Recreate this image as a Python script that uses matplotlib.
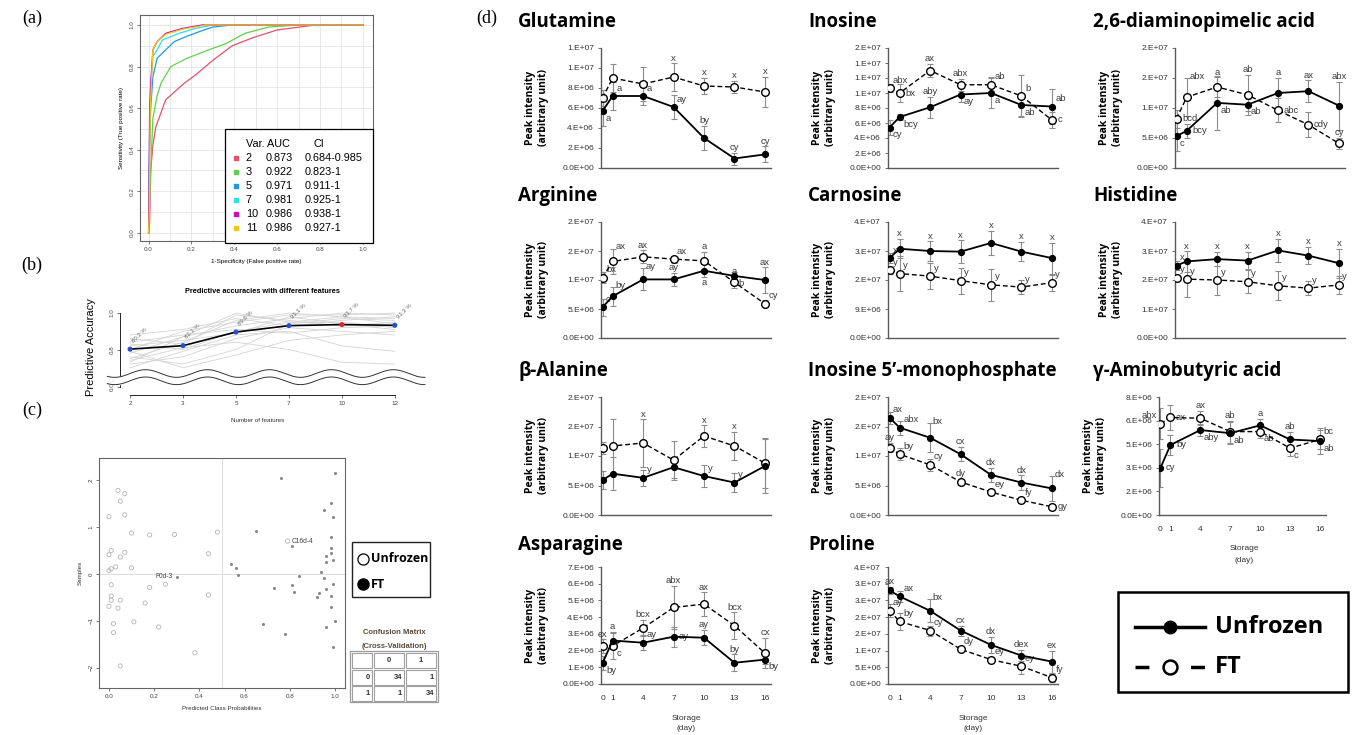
import numpy as np
import matplotlib
matplotlib.use('Agg')
import matplotlib.pyplot as plt
from matplotlib.patches import Rectangle
from matplotlib.ticker import FuncFormatter, MultipleLocator

# ---------------- data ----------------
days = [0, 1, 4, 7, 10, 13, 16]

# (a) ROC curves (false positive rate, true positive rate)
roc_vars = ['2', '3', '5', '7', '10', '11']
roc_auc = ['0.873', '0.922', '0.971', '0.981', '0.986', '0.986']
roc_ci = ['0.684-0.985', '0.823-1', '0.911-1', '0.925-1', '0.938-1', '0.927-1']
roc_fpr_2 = [0, 0.005, 0.01, 0.02, 0.034, 0.08, 0.167, 0.22, 0.30, 0.39, 0.49, 0.60, 0.78, 1.0]
roc_tpr_2 = [0, 0.05, 0.30, 0.42, 0.51, 0.64, 0.72, 0.76, 0.83, 0.90, 0.94, 0.976, 1.0, 1.0]
roc_fpr_3 = [0, 0.01, 0.02, 0.04, 0.058, 0.104, 0.18, 0.28, 0.36, 0.45, 0.56, 0.70, 1.0]
roc_tpr_3 = [0, 0.30, 0.55, 0.66, 0.72, 0.80, 0.84, 0.88, 0.91, 0.96, 0.99, 1.0, 1.0]
roc_fpr_5 = [0, 0.005, 0.01, 0.02, 0.04, 0.08, 0.12, 0.175, 0.237, 0.30, 0.39, 1.0]
roc_tpr_5 = [0, 0.40, 0.60, 0.75, 0.84, 0.88, 0.92, 0.944, 0.968, 0.99, 1.0, 1.0]
roc_fpr_7 = [0, 0.005, 0.01, 0.02, 0.04, 0.065, 0.143, 0.22, 0.30, 1.0]
roc_tpr_7 = [0, 0.50, 0.70, 0.85, 0.88, 0.928, 0.96, 0.984, 1.0, 1.0]
roc_fpr_10 = [0, 0.005, 0.01, 0.02, 0.04, 0.08, 0.16, 0.25, 1.0]
roc_tpr_10 = [0, 0.60, 0.72, 0.88, 0.92, 0.96, 0.984, 1.0, 1.0]
roc_fpr_11 = [0, 0.003, 0.008, 0.02, 0.04, 0.08, 0.16, 0.27, 1.0]
roc_tpr_11 = [0, 0.10, 0.60, 0.88, 0.92, 0.955, 0.98, 1.0, 1.0]

# (b) accuracy vs number of features
feat_labels = ['2', '3', '5', '7', '10', '12']
acc_best = [0.802, 0.821, 0.896, 0.931, 0.937, 0.933]
acc_text = ['80.2 %', '82.1 %', '89.6 %', '93.1 %', '93.7 %', '93.3 %']
acc_bg_1 = [0.75, 0.84, 0.96, 1.00, 0.98, 0.97]
acc_bg_2 = [0.78, 0.87, 0.93, 0.97, 1.00, 0.99]
acc_bg_3 = [0.83, 0.80, 0.90, 0.95, 0.95, 0.92]
acc_bg_4 = [0.72, 0.76, 0.86, 0.92, 0.90, 0.88]
acc_bg_5 = [0.86, 0.83, 0.99, 0.96, 0.93, 0.95]
acc_bg_6 = [0.70, 0.79, 0.88, 0.90, 0.82, 0.79]
acc_bg_7 = [0.80, 0.90, 0.95, 0.99, 0.99, 1.00]
acc_bg_8 = [0.76, 0.72, 0.80, 0.94, 0.97, 0.96]
acc_bg_9 = [0.84, 0.88, 0.91, 0.89, 0.92, 0.93]
acc_bg_10 = [0.74, 0.81, 0.84, 0.80, 0.73, 0.72]
acc_bg_11 = [0.88, 0.91, 0.97, 0.93, 0.96, 0.98]
acc_bg_12 = [0.79, 0.70, 0.77, 0.85, 0.88, 0.90]
acc_bg_13 = [0.82, 0.85, 0.89, 0.98, 0.94, 0.91]
acc_bg_14 = [0.73, 0.87, 1.00, 0.95, 0.98, 0.94]

# (c) predicted class probabilities
unf_prob = [0.04, 0.07, 0.05, 0.07, 0.0, 0.10, 0.18, 0.29, 0.48, 0.01, 0.07, 0.0, 0.05, 0.44,
            0.03, 0.01, 0.0, 0.10, 0.01, 0.18, 0.25, 0.01, 0.01, 0.05, 0.44, 0.0, 0.04, 0.16,
            0.02, 0.11, 0.22, 0.02, 0.38, 0.05, 0.79]
unf_samp = [1.78, 1.71, 1.55, 1.26, 1.22, 0.87, 0.83, 0.84, 0.89, 0.50, 0.46, 0.41, 0.36, 0.43,
            0.15, 0.11, 0.07, 0.13, -0.23, -0.29, -0.22, -0.47, -0.56, -0.56, -0.45, -0.69, -0.73,
            -0.62, -1.06, -1.02, -1.13, -1.25, -1.68, -1.96, 0.70]
ft_prob = [0.76, 1.0, 0.98, 0.95, 0.99, 0.65, 0.98, 0.81, 0.98, 0.98, 0.96, 0.99, 0.96, 0.54,
           0.56, 0.57, 0.84, 0.94, 0.95, 0.73, 0.81, 0.82, 0.93, 0.92, 0.96, 0.98, 0.99, 0.98,
           1.0, 0.96, 0.68, 0.78, 0.99, 0.30]
ft_samp = [2.05, 2.16, 1.52, 1.37, 1.21, 0.92, 0.78, 0.59, 0.55, 0.45, 0.38, 0.30, 0.25, 0.22,
           0.12, -0.03, -0.04, 0.05, -0.08, -0.31, -0.23, -0.38, -0.41, -0.50, -0.33, -0.47,
           -0.21, -0.70, -1.01, -1.12, -1.07, -1.27, -1.55, -0.06]
confusion = [[34, 1], [1, 34]]

# (d) peak intensities
glu_u = [5.7e6, 7.2e6, 7.2e6, 6.1e6, 3.0e6, 0.95e6, 1.36e6]
glu_u_err = [1.5e6, 1.4e6, 0.9e6, 1.2e6, 1.2e6, 0.6e6, 0.8e6]
glu_f = [7.0e6, 9.0e6, 8.4e6, 9.1e6, 8.2e6, 8.1e6, 7.6e6]
glu_f_err = [0.8e6, 1.4e6, 1.7e6, 1.35e6, 0.8e6, 0.6e6, 1.5e6]
glu_u_let = ['a', 'a', 'a', 'ay', 'by', 'cy', 'cy']
glu_f_let = ['', '', '', 'x', 'x', 'x', 'x']

ino_u = [5.4e6, 6.8e6, 8.1e6, 9.8e6, 1.0e7, 8.4e6, 8.2e6]
ino_u_err = [1.0e6, 0.4e6, 1.4e6, 1.0e6, 2.0e6, 1.4e6, 2.3e6]
ino_f = [1.065e7, 1.0e7, 1.3e7, 1.11e7, 1.11e7, 9.6e6, 6.4e6]
ino_f_err = [0.5e6, 1.2e6, 0.9e6, 0.8e6, 1.0e6, 2.8e6, 1.1e6]
ino_u_let = ['cy', 'bcy', 'aby', 'ay', 'a', 'ab', 'ab']
ino_f_let = ['abx', 'bx', 'ax', 'abx', 'ab', 'b', 'c']

dap_u = [5.3e6, 6.2e6, 1.085e7, 1.055e7, 1.25e7, 1.28e7, 1.04e7]
dap_u_err = [2.5e6, 1.2e6, 4.5e6, 1.0e6, 2.5e6, 1.8e6, 4.0e6]
dap_f = [8.2e6, 1.18e7, 1.35e7, 1.22e7, 9.6e6, 7.2e6, 4.1e6]
dap_f_err = [1.5e6, 3.2e6, 1.6e6, 3.3e6, 2.0e6, 2.1e6, 0.9e6]
dap_u_let = ['c', 'bcy', 'ab', 'ab', 'a', 'ax', 'abx']
dap_f_let = ['bcd', 'abx', 'a', 'ab', 'abc', 'cdy', 'cy']

arg_u = [5.3e6, 7.2e6, 1.01e7, 1.01e7, 1.16e7, 1.07e7, 1.0e7]
arg_u_err = [1.5e6, 1.6e6, 1.9e6, 1.1e6, 1.1e6, 0.7e6, 2.2e6]
arg_f = [1.04e7, 1.32e7, 1.4e7, 1.36e7, 1.33e7, 9.6e6, 5.9e6]
arg_f_err = [1.0e6, 2.2e6, 1.1e6, 0.6e6, 1.6e6, 1.0e6, 0.6e6]
arg_u_let = ['c', 'by', 'ay', 'ay', 'a', 'b', 'ax']
arg_f_let = ['bx', 'ax', 'ax', 'ax', 'a', 'a', 'cy']

car_u = [2.48e7, 2.77e7, 2.7e7, 2.68e7, 2.95e7, 2.68e7, 2.48e7]
car_u_err = [1.5e6, 3.0e6, 3.0e6, 3.5e6, 3.7e6, 3.0e6, 4.8e6]
car_f = [2.1e7, 2.0e7, 1.92e7, 1.78e7, 1.65e7, 1.58e7, 1.72e7]
car_f_err = [1.0e6, 5.5e6, 4.0e6, 4.0e6, 5.0e6, 2.2e6, 2.5e6]
car_u_let = ['x'] * 7
car_f_let = ['y'] * 7

his_u = [2.5e7, 2.64e7, 2.72e7, 2.67e7, 3.02e7, 2.84e7, 2.58e7]
his_u_err = [1.5e6, 3.5e6, 2.5e6, 3.0e6, 4.0e6, 3.0e6, 5.0e6]
his_f = [2.08e7, 2.03e7, 2.0e7, 1.94e7, 1.8e7, 1.72e7, 1.83e7]
his_f_err = [1.0e6, 6.0e6, 5.0e6, 4.0e6, 5.0e6, 2.5e6, 3.0e6]
his_u_let = ['x'] * 7
his_f_let = ['y'] * 7

ala_u = [5.9e6, 7.0e6, 6.3e6, 8.1e6, 6.6e6, 5.5e6, 8.3e6]
ala_u_err = [1.5e6, 2.8e6, 1.3e6, 1.8e6, 1.8e6, 1.6e6, 4.5e6]
ala_f = [1.14e7, 1.17e7, 1.22e7, 9.3e6, 1.34e7, 1.17e7, 8.8e6]
ala_f_err = [1.0e6, 4.5e6, 4.0e6, 3.3e6, 1.8e6, 2.4e6, 4.2e6]
ala_u_let = ['', '', 'y', '', 'y', 'y', '']
ala_f_let = ['', '', 'x', '', 'x', 'x', '']

imp_u = [1.65e7, 1.48e7, 1.31e7, 1.03e7, 6.8e6, 5.5e6, 4.5e6]
imp_u_err = [1.0e6, 1.2e6, 2.5e6, 1.2e6, 1.2e6, 1.2e6, 2.1e6]
imp_f = [1.14e7, 1.03e7, 8.5e6, 5.6e6, 3.9e6, 2.5e6, 1.4e6]
imp_f_err = [0.8e6, 1.0e6, 1.0e6, 0.5e6, 0.4e6, 0.5e6, 0.4e6]
imp_u_let = ['ax', 'abx', 'bx', 'cx', 'dx', 'dx', 'dx']
imp_f_let = ['ay', 'by', 'cy', 'dy', 'ey', 'fy', 'gy']

gaba_u = [3.0e6, 4.45e6, 5.4e6, 5.2e6, 5.7e6, 4.8e6, 4.7e6]
gaba_u_err = [1.2e6, 0.65e6, 0.4e6, 0.7e6, 0.4e6, 0.5e6, 0.8e6]
gaba_f = [5.8e6, 6.2e6, 6.15e6, 5.3e6, 5.3e6, 4.25e6, 4.8e6]
gaba_f_err = [1.0e6, 0.8e6, 0.45e6, 0.7e6, 0.4e6, 0.5e6, 0.6e6]
gaba_u_let = ['cy', 'by', 'aby', 'ab', 'a', 'ab', 'ab']
gaba_f_let = ['abx', 'ax', 'ax', 'ab', 'ab', 'c', 'bc']

asn_u = [1.25e6, 2.6e6, 2.47e6, 2.83e6, 2.77e6, 1.27e6, 1.46e6]
asn_u_err = [0.4e6, 0.5e6, 0.45e6, 0.6e6, 0.45e6, 0.5e6, 0.25e6]
asn_f = [2.28e6, 2.28e6, 3.35e6, 4.58e6, 4.78e6, 3.49e6, 1.85e6]
asn_f_err = [0.4e6, 0.8e6, 0.5e6, 1.3e6, 0.7e6, 0.8e6, 0.9e6]
asn_u_let = ['by', 'a', 'ay', 'ay', 'ay', 'by', 'by']
asn_f_let = ['cx', 'c', 'bcx', 'abx', 'ax', 'bcx', 'cx']

pro_u = [2.8e7, 2.62e7, 2.19e7, 1.6e7, 1.17e7, 8.5e6, 6.7e6]
pro_u_err = [1.0e6, 1.7e6, 3.4e6, 1.5e6, 2.4e6, 1.7e6, 3.3e6]
pro_f = [2.19e7, 1.87e7, 1.6e7, 1.04e7, 7.3e6, 5.3e6, 1.9e6]
pro_f_err = [2.0e6, 2.5e6, 1.5e6, 0.6e6, 0.8e6, 2.4e6, 1.2e6]
pro_u_let = ['ax', 'ax', 'bx', 'cx', 'dx', 'dex', 'ex']
pro_f_let = ['ay', 'by', 'cy', 'dy', 'ey', 'ey', 'fy']

# ---------------- layout ----------------
W, H = 1358, 735
fig = plt.figure(figsize=(W / 100, H / 100), dpi=100)
plt.rcParams['font.family'] = ['Liberation Sans', 'DejaVu Sans']
SANS = ['Open Sans', 'DejaVu Sans']


def px_axes(l, t, r, b, **kw):
    return fig.add_axes([l / W, 1 - b / H, (r - l) / W, (b - t) / H], **kw)


def fig_text(x, y, s, **kw):
    fig.text(x / W, 1 - y / H, s, **kw)


# ---- (a) ROC ----
ax = px_axes(140, 15, 373, 241)
roc_colors = ['#DF536B', '#61D04F', '#2297E6', '#28E2E5', '#CD0BBC', '#F5C710']
roc_curves = [(roc_fpr_2, roc_tpr_2), (roc_fpr_3, roc_tpr_3), (roc_fpr_5, roc_tpr_5),
              (roc_fpr_7, roc_tpr_7), (roc_fpr_10, roc_tpr_10), (roc_fpr_11, roc_tpr_11)]
for (fx, ty), c in zip(roc_curves, roc_colors):
    ax.plot(fx, ty, color=c, lw=0.9)
ax.set_xlim(-0.04, 1.047)
ax.set_ylim(-0.04, 1.048)
ax.xaxis.set_major_locator(MultipleLocator(0.2))
ax.yaxis.set_major_locator(MultipleLocator(0.2))
ax.xaxis.set_minor_locator(MultipleLocator(0.1))
ax.yaxis.set_minor_locator(MultipleLocator(0.1))
ax.grid(True, which='both', color='#e4e4e4', lw=0.6)
ax.set_axisbelow(True)
ax.tick_params(labelsize=4.5, length=2, width=0.5, colors='#444', pad=2)
ax.tick_params(which='minor', length=0)
for lab in ax.get_yticklabels():
    lab.set_rotation(90)
    lab.set_va('center')
for s in ax.spines.values():
    s.set_color('#666')
    s.set_linewidth(0.8)
ax.set_xlabel('1-Specificity (False positive rate)', fontsize=4.5, labelpad=5)
ax.set_ylabel('Sensitivity (True positive rate)', fontsize=4.5, labelpad=4)

# ---- (b) accuracies ----
bx = px_axes(120, 300, 425, 395)
xs = np.arange(len(feat_labels))
for bg in [acc_bg_1, acc_bg_2, acc_bg_3, acc_bg_4, acc_bg_5, acc_bg_6, acc_bg_7,
           acc_bg_8, acc_bg_9, acc_bg_10, acc_bg_11, acc_bg_12, acc_bg_13, acc_bg_14]:
    bx.plot(xs, bg, color='#d4d4d4', lw=0.6, zorder=1)
bx.plot(xs, acc_best, color='black', lw=1.2, zorder=3)
pt_colors = ['#2a4fc8'] * len(xs)
pt_colors[4] = '#e8262a'
bx.scatter(xs, acc_best, s=7, c=pt_colors, zorder=4)
for xi, yv, t in zip(xs, acc_best, acc_text):
    bx.annotate(t, (xi, yv), xytext=(1, 4), textcoords='offset points', rotation=45,
                fontsize=4.3, color='#666', ha='left', va='bottom')
bx.set_xlim(-0.19, 5.57)
bx.set_ylim(0.55, 1.072)
bx.set_xticks(xs)
bx.set_xticklabels(feat_labels)
bx.set_yticks([0.594, 0.8, 1.0])
bx.set_yticklabels(['0.0', '0.8', '1.0'], rotation=90, va='center')
bx.tick_params(labelsize=4.5, length=2, width=0.5, colors='#444', pad=2)
bx.spines['top'].set_visible(False)
bx.spines['right'].set_visible(False)
bx.spines['left'].set_bounds(0.594, 1.0)
bx.spines['bottom'].set_bounds(0, 5)
for s in ('left', 'bottom'):
    bx.spines[s].set_linewidth(0.6)
xw = np.linspace(-0.43, 5.57, 500)
wave = 0.021 * np.sin(2 * np.pi * xw / 1.17)
up, lo = 0.668 + wave, 0.628 + wave
bx.fill_between(xw, lo, up, color='white', zorder=6, clip_on=False)
bx.plot(xw, up, color='#333', lw=0.7, zorder=7, clip_on=False)
bx.plot(xw, lo, color='#333', lw=0.7, zorder=7, clip_on=False)
fig_text(262, 292, 'Predictive accuracies with different features', fontsize=5.3,
         fontweight='bold', ha='center', va='center')
fig_text(258, 421, 'Number of features', fontsize=4.5, ha='center', va='center', color='#333')
fig_text(91, 347, 'Predictive Accuracy', fontsize=8, rotation=90, ha='center', va='center')

# ---- (c) class probabilities ----
cx = px_axes(99, 458, 345, 688)
cx.axvline(0.5, color='#dcdcdc', lw=0.7, zorder=0)
cx.axhline(0.0, color='#dcdcdc', lw=0.7, zorder=0)
cx.scatter(unf_prob, unf_samp, s=9, facecolors='none', edgecolors='#b5b5b5', linewidths=0.6)
cx.scatter(ft_prob, ft_samp, s=5, color='#8a8a8a', linewidths=0)
cx.annotate('F0d-3', (ft_prob[-1], ft_samp[-1]), xytext=(-3, 0), textcoords='offset points',
            fontsize=4.8, ha='right', va='center', color='#444')
cx.annotate('C16d-4', (unf_prob[-1], unf_samp[-1]), xytext=(3, 0), textcoords='offset points',
            fontsize=4.8, ha='left', va='center', color='#444')
cx.set_xlim(-0.044, 1.044)
cx.set_ylim(-2.43, 2.47)
cx.set_xticks([0, 0.2, 0.4, 0.6, 0.8, 1.0])
cx.set_yticks([-2, -1, 0, 1, 2])
cx.tick_params(labelsize=4.5, length=2, width=0.5, colors='#444', pad=2)
for lab in cx.get_yticklabels():
    lab.set_rotation(90)
    lab.set_va('center')
for s in cx.spines.values():
    s.set_color('#666')
    s.set_linewidth(0.8)
cx.set_xlabel('Predicted Class Probabilities', fontsize=4.5, labelpad=5, color='#333')
cx.set_ylabel('Samples', fontsize=4.5, labelpad=4, color='#333')

# ---- (d) metabolite panels ----
def excel_sci(v, pos=None):
    if abs(v) < 1e-9:
        return '0.0E+00'
    e = int(np.floor(np.log10(abs(v)) + 1e-12))
    m = int(np.floor(v / 10 ** e + 0.5 + 1e-9))
    if m == 10:
        m, e = 1, e + 1
    return f'{m}.E+{e:02d}'


# placement of significance letters: u above bar, d below, r right, ur/dr/ul corner, ue right of bar top
def put_letter(a, x, v, e, txt, code):
    spec = {'u': ((x, v + e), (0, 0.5), 'center', 'bottom'),
            'd': ((x, v - e), (0, -0.5), 'center', 'top'),
            'r': ((x, v), (4, 0), 'left', 'center'),
            'l': ((x, v), (-4, 0), 'right', 'center'),
            'ur': ((x, v), (2.5, 2.5), 'left', 'bottom'),
            'dr': ((x, v), (2.5, -2), 'left', 'top'),
            'ul': ((x, v), (-2.5, 2.5), 'right', 'bottom'),
            'ue': ((x, v + e), (2, -2), 'left', 'bottom')}[code]
    a.annotate(txt, spec[0], xytext=spec[1], textcoords='offset points', ha=spec[2],
               va=spec[3], fontsize=6.8, color='#3c3c3c', annotation_clip=False)


col_left = [601, 888, 1175]
col_w = 170
row_top = [48, 222, 397, 567]
row_bot = [168, 338, 515, 684]
col_title_x = [518, 808, 1093]
row_title_y = [22, 196, 371, 545]

# name, row, col, y max, y step, data..., letter placement (unfrozen, FT), x shift of the plot
panels = [
    ('Glutamine', 0, 0, 1.2e7, 2e6, glu_u, glu_u_err, glu_f, glu_f_err, glu_u_let, glu_f_let,
     ['dr', 'ur', 'ur', 'ur', 'u', 'u', 'u'], ['u'] * 7, 0),
    ('Inosine', 0, 1, 1.6e7, 2e6, ino_u, ino_u_err, ino_f, ino_f_err, ino_u_let, ino_f_let,
     ['dr', 'dr', 'u', 'dr', 'dr', 'dr', 'ur'], ['ur', 'r', 'u', 'u', 'ur', 'ur', 'r'], 0),
    ('2,6-diaminopimelic acid', 0, 2, 2e7, 5e6, dap_u, dap_u_err, dap_f, dap_f_err, dap_u_let,
     dap_f_let, ['dr', 'r', 'dr', 'dr', 'u', 'u', 'u'], ['r', 'ue', 'u', 'u', 'r', 'r', 'u'], 0),
    ('Arginine', 1, 0, 2e7, 5e6, arg_u, arg_u_err, arg_f, arg_f_err, arg_u_let, arg_f_let,
     ['ur', 'ue', 'ue', 'u', 'd', 'dr', 'u'], ['ur', 'ue', 'u', 'ur', 'u', 'u', 'ur'], 0),
    ('Carnosine', 1, 1, 3.6e7, 9e6, car_u, car_u_err, car_f, car_f_err, car_u_let, car_f_let,
     ['ur'] + ['u'] * 6, ['ur'] * 7, 0),
    ('Histidine', 1, 2, 4e7, 1e7, his_u, his_u_err, his_f, his_f_err, his_u_let, his_f_let,
     ['ur'] + ['u'] * 6, ['ur'] * 7, 0),
    ('\u03b2-Alanine', 2, 0, 2e7, 5e6, ala_u, ala_u_err, ala_f, ala_f_err, ala_u_let, ala_f_let,
     ['ur'] * 7, ['u'] * 7, 0),
    ('Inosine 5\u2019-monophosphate', 2, 1, 2e7, 5e6, imp_u, imp_u_err, imp_f, imp_f_err,
     imp_u_let, imp_f_let, ['ur', 'ur', 'ue', 'u', 'u', 'u', 'ue'],
     ['u', 'ur', 'ur', 'u', 'ur', 'ur', 'r'], 0),
    ('\u03b3-Aminobutyric acid', 2, 2, 7.5e6, 1.5e6, gaba_u, gaba_u_err, gaba_f, gaba_f_err,
     gaba_u_let, gaba_f_let, ['r', 'r', 'dr', 'dr', 'u', 'u', 'dr'],
     ['ul', 'r', 'u', 'u', 'dr', 'dr', 'ur'], -16),
    ('Asparagine', 3, 0, 7e6, 1e6, asn_u, asn_u_err, asn_f, asn_f_err, asn_u_let, asn_f_let,
     ['dr', 'u', 'ur', 'r', 'u', 'u', 'dr'], ['u', 'dr', 'u', 'u', 'u', 'u', 'u'], 0),
    ('Proline', 3, 1, 3.5e7, 5e6, pro_u, pro_u_err, pro_f, pro_f_err, pro_u_let, pro_f_let,
     ['u', 'ur', 'ue', 'u', 'u', 'u', 'u'], ['ur'] * 7, 0),
]

for (title, r, c, ymax, ystep, u, ue, f, fe, ul, fl, upos, fpos, shift) in panels:
    left = col_left[c] + shift
    a = px_axes(left, row_top[r], left + col_w - 3 * (shift != 0), row_bot[r])
    a.errorbar(days, f, yerr=fe, fmt='none', ecolor='#8c8c8c', elinewidth=0.8, capsize=2,
               capthick=0.8, zorder=2)
    a.errorbar(days, u, yerr=ue, fmt='none', ecolor='#8c8c8c', elinewidth=0.8, capsize=2,
               capthick=0.8, zorder=2)
    a.plot(days, f, color='black', lw=1.0, ls=(0, (3.5, 2)), marker='o', ms=5.5,
           mfc='white', mec='black', mew=1.0, zorder=4)
    a.plot(days, u, color='black', lw=1.3, marker='o', ms=4.2, mfc='black', mec='black',
           zorder=5)
    for i in range(len(days)):
        if ul[i]:
            put_letter(a, days[i], u[i], ue[i], ul[i], upos[i])
        if fl[i]:
            put_letter(a, days[i], f[i], fe[i], fl[i], fpos[i])
    a.set_xlim(-0.15, 16.6)
    a.set_ylim(0, ymax)
    a.set_yticks([k * ystep for k in range(int(round(ymax / ystep)) + 1)])
    a.yaxis.set_major_formatter(FuncFormatter(excel_sci))
    a.tick_params(axis='y', labelsize=6, length=2, width=0.6, colors='#595959',
                  labelcolor='#333', pad=3)
    a.tick_params(axis='x', length=0, labelsize=6, labelcolor='#333', pad=8)
    a.spines['top'].set_visible(False)
    a.spines['right'].set_visible(False)
    for s in ('left', 'bottom'):
        a.spines[s].set_color('#595959')
        a.spines[s].set_linewidth(1.0)
    if r == 3 or (r == 2 and c == 2):
        a.set_xticks(days)
        a.set_xticklabels(['0', '1', '4', '7', '10', '13', '16'])
        cxm = left + col_w / 2
        yb = row_bot[r]
        fig_text(cxm, yb + 34, 'Storage', fontsize=6, ha='center', va='center', color='#333')
        fig_text(cxm, yb + 45, '(day)', fontsize=6, ha='center', va='center', color='#333')
    else:
        a.set_xticks([])
    fig_text(col_title_x[c], row_title_y[r], title, fontsize=13.5, fontweight='bold',
             ha='left', va='center', family=SANS)
    fig_text(left - 64, (row_top[r] + row_bot[r]) / 2,
             'Peak intensity\n(arbitrary unit)', fontsize=7.5, fontweight='bold',
             rotation=90, ha='center', va='center', multialignment='center',
             linespacing=1.2, family=SANS)

# ---- overlay: panel letters, legends, confusion matrix ----
ov = fig.add_axes([0, 0, 1, 1], zorder=10)
ov.set_xlim(0, W)
ov.set_ylim(H, 0)
ov.axis('off')

for lab, (lx, ly) in zip(['(a)', '(b)', '(c)', '(d)'],
                         [(32, 18), (32, 265), (32, 410), (487, 18)]):
    ov.text(lx, ly, lab, fontsize=13, family='Liberation Serif', ha='center', va='center')

# ROC legend
ov.add_patch(Rectangle((225, 129), 148, 114, fc='white', ec='black', lw=0.9))
ov.text(246, 144, 'Var. AUC', fontsize=7.8, va='center', ha='left')
ov.text(313, 144, 'CI', fontsize=7.8, va='center', ha='left')
for k, (v, auc, ci, col) in enumerate(zip(roc_vars, roc_auc, roc_ci, roc_colors)):
    yy = 158 + k * 14
    ov.plot(236, yy, marker='s', ms=3.5, color=col, mec=col)
    ov.text(246, yy, v, fontsize=7.8, va='center', ha='left')
    ov.text(266, yy, auc, fontsize=7.8, va='center', ha='left')
    ov.text(305, yy, ci, fontsize=7.8, va='center', ha='left')

# class legend for (c)
ov.add_patch(Rectangle((352, 542), 78, 55, fc='white', ec='#222', lw=1.0))
ov.plot(363, 559, marker='o', ms=8, mfc='white', mec='black', mew=0.9)
ov.plot(363, 584, marker='o', ms=8, mfc='black', mec='black')
ov.text(371, 559, 'Unfrozen', fontsize=9, fontweight='bold', va='center', family=SANS)
ov.text(371, 584, 'FT', fontsize=9, fontweight='bold', va='center', family=SANS)

# confusion matrix table
ov.text(394, 633, 'Confusion Matrix', fontsize=5.5, fontweight='bold', ha='center',
        va='center', color='#5a4a3a')
ov.text(394, 646, '(Cross-Validation)', fontsize=5.5, fontweight='bold', ha='center',
        va='center', color='#5a4a3a')
ov.add_patch(Rectangle((350, 651), 88, 51, fc='none', ec='#9a9a9a', lw=0.9))
cols = [(352, 20), (374, 30), (406, 30)]
rows = [(653, 15), (670, 15), (686, 15)]
cells = [['', '0', '1'], ['0', str(confusion[0][0]), str(confusion[0][1])],
         ['1', str(confusion[1][0]), str(confusion[1][1])]]
for ri, (ry, rh) in enumerate(rows):
    for ci, (cxp, cw) in enumerate(cols):
        ov.add_patch(Rectangle((cxp, ry), cw, rh, fc='none', ec='#a0a0a0', lw=0.8))
        t = cells[ri][ci]
        if ri == 0:
            ov.text(cxp + cw / 2, ry + rh / 2, t, fontsize=5.5, fontweight='bold',
                    ha='center', va='center', color='#333')
        else:
            ov.text(cxp + cw - 2, ry + rh / 2, t, fontsize=5.5, fontweight='bold',
                    ha='right', va='center', color='#333')

# legend for (d)
ov.add_patch(Rectangle((1118, 592), 230, 100, fc='white', ec='black', lw=1.8))
ov.plot([1135, 1205], [627, 627], color='black', lw=2.5)
ov.plot(1170, 627, marker='o', ms=9, color='black')
ov.plot([1135, 1205], [667, 667], color='black', lw=2.5, ls=(0, (4, 4)))
ov.plot(1170, 667, marker='o', ms=10, mfc='white', mec='black', mew=1.8)
ov.text(1215, 627, 'Unfrozen', fontsize=17, fontweight='bold', va='center', family=SANS)
ov.text(1215, 667, 'FT', fontsize=17, fontweight='bold', va='center', family=SANS)

fig.savefig('out.png', dpi=100)
